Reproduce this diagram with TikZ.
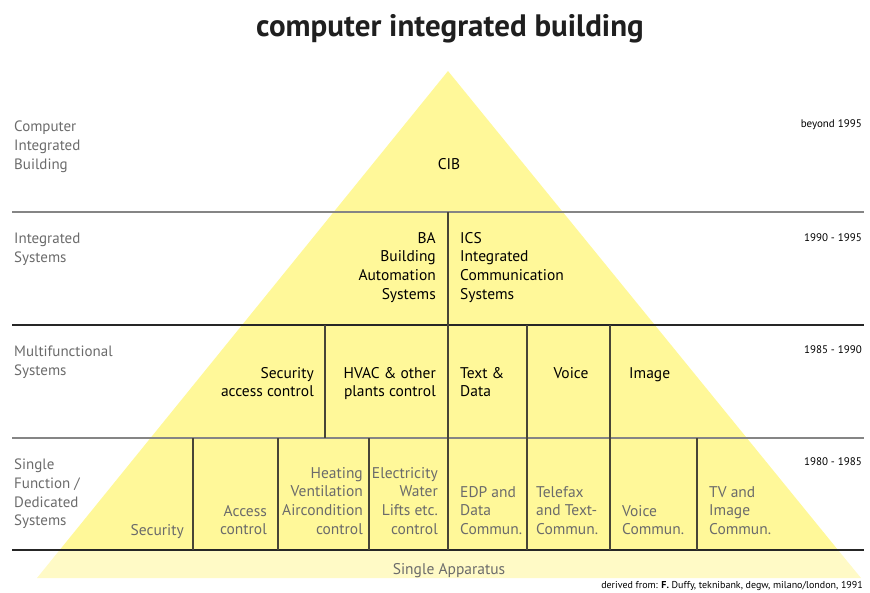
\documentclass[tikz,border=0pt]{standalone}
\usepackage{fontspec}
\setmainfont{PT Sans}
\usetikzlibrary{positioning}
\definecolor{cibyellow}{HTML}{FFF899}
\definecolor{cibpale}{HTML}{FFFAC6}
\definecolor{cibgrey}{HTML}{6B6B6B}
\definecolor{cibrule}{HTML}{858585}
\definecolor{cibdark}{HTML}{262626}
\tikzset{
  lvl/.style={font=\fontsize{15}{18.7}\selectfont, text=cibgrey,
    align=left, anchor=north west, inner sep=0pt},
  yr/.style={font=\fontsize{11}{13}\selectfont, anchor=north east,
    inner sep=0pt},
  toptext/.style={font=\fontsize{15.5}{18.7}\selectfont, inner sep=0pt},
  bottext/.style={toptext, text=cibgrey},
  hrule/.style={line width=1.6pt},
  cellrule/.style={draw=cibdark!85!cibyellow, line width=1.3pt},
}

\begin{document}
\begin{tikzpicture}[x=1pt, y=-1pt]
  \useasboundingbox (0,0) rectangle (870,592);
  % pyramid and its base band
  \coordinate (apex) at (448,71);
  \coordinate (bl) at (59.7,550);
  \coordinate (br) at (838,550);
  \fill[cibyellow] (apex) -- (bl) -- (br) -- cycle;
  \fill[cibpale] (bl) -- (37,578) -- (861,578) -- (br) -- cycle;

  % level rules
  \draw[hrule, cibrule] (12,212) -- (864,212);
  \draw[hrule, cibdark] (12,325) -- (864,325);
  \draw[hrule, cibrule] (12,438) -- (864,438);
  \draw[hrule, cibdark] (12,550) -- (864,550);
  % cell dividers
  \draw[cellrule] (448,212) -- (448,325);
  \foreach \x in {325,448,527,610} \draw[cellrule] (\x,325) -- (\x,438);
  \foreach \x in {193,278,369,448,527,610,697} \draw[cellrule] (\x,438) -- (\x,550);

  \node[font=\fontsize{31}{36}\selectfont\bfseries, text=black!88, anchor=north,
        inner sep=0pt] (title) at (450,14) {computer integrated building};

  % levels on the left
  \node[lvl] (lvlcib) at (14,121) {Computer\\Integrated\\Building};
  \node[lvl] (lvlis)  at (14,233) {Integrated\\Systems};
  \node[lvl] (lvlmf)  at (14,346) {Multifunctional\\Systems};
  \node[lvl] (lvlsf)  at (14,459) {Single\\Function /\\Dedicated\\Systems};
  % periods on the right
  \node[yr] (yrcib) at (862,119) {beyond 1995};
  \node[yr] (yris)  at (862,233) {1990 - 1995};
  \node[yr] (yrmf)  at (862,345) {1985 - 1990};
  \node[yr] (yrsf)  at (862,457) {1980 - 1985};

  % inside the pyramid
  \node[toptext, anchor=north] (cib) at (449,158) {CIB};
  \node[toptext, anchor=north east, align=right] (ba) at (436,232)
       {BA\\Building\\Automation\\Systems};
  \node[toptext, anchor=north west, align=left] (ics) at (460,232)
       {ICS\\Integrated\\Communication\\Systems};
  \node[toptext, anchor=north east, align=right] (secac) at (314,367)
       {Security\\access control};
  \node[toptext, anchor=north east, align=right] (hvac) at (436,367)
       {HVAC \& other\\plants control};
  \node[toptext, anchor=north west, align=left] (textdata) at (460,367)
       {Text \&\\Data};
  \node[toptext, anchor=north] (voice) at (571,367) {Voice};
  \node[toptext, anchor=north west] (image) at (629,367) {Image};

  \node[bottext, anchor=north east] (security) at (184,524) {Security};
  \node[bottext, anchor=north east, align=right] (access) at (267,505)
       {Access\\control};
  \node[bottext, anchor=north east, align=right] (heating) at (363,467)
       {Heating\\Ventilation\\Aircondition\\control};
  \node[bottext, anchor=north east, align=right] (electricity) at (438,467)
       {Electricity\\Water\\Lifts etc.\\control};
  \node[bottext, anchor=north west, align=left] (edp) at (460,486)
       {EDP and\\Data\\Commun.};
  \node[bottext, anchor=north west, align=left] (telefax) at (536,486)
       {Telefax\\and Text-\\Commun.};
  \node[bottext, anchor=north west, align=left] (voicecom) at (622,505)
       {Voice\\Commun.};
  \node[bottext, anchor=north west, align=left] (tvimage) at (709,486)
       {TV and\\Image\\Commun.};

  \node[bottext, anchor=north] (apparatus) at (449,563) {Single Apparatus};
  \node[font=\fontsize{10}{12}\selectfont, anchor=north east, inner sep=0pt]
       (source) at (863,581)
       {derived from: \textbf{F.} Duffy, teknibank, degw, milano/london, 1991};
\end{tikzpicture}
\end{document}
